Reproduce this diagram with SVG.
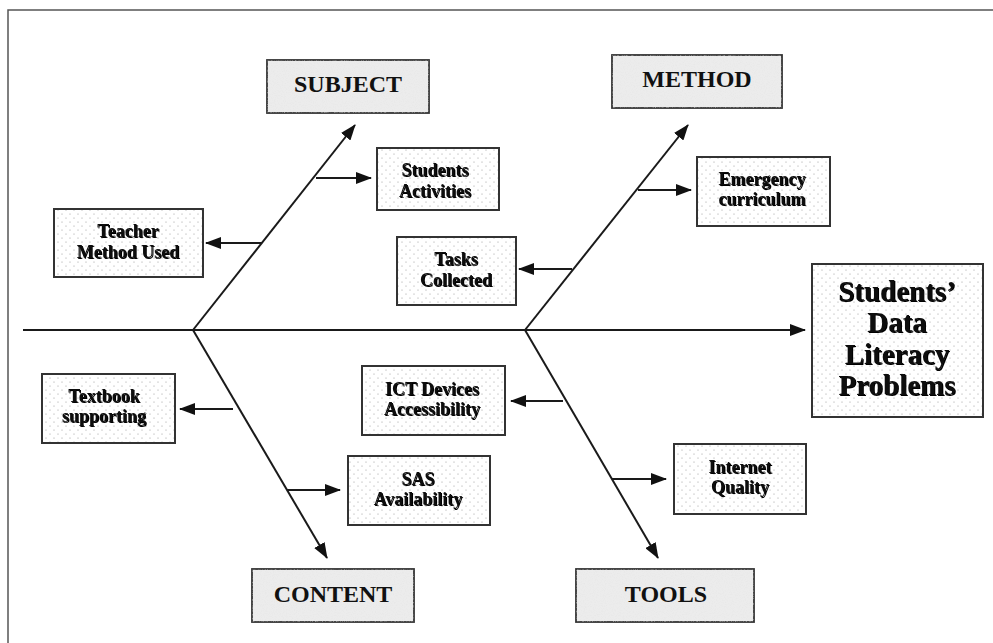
<svg xmlns="http://www.w3.org/2000/svg" width="993" height="643" viewBox="0 0 993 643">
<defs>
<pattern id="dots" width="8" height="8" patternUnits="userSpaceOnUse">
<rect width="8" height="8" fill="#ffffff"/>
<circle cx="2" cy="2" r="0.6" fill="#9a9a9a"/>
<circle cx="6" cy="6" r="0.6" fill="#9a9a9a"/>
</pattern>
<filter id="speckle" x="0" y="0" width="100%" height="100%">
<feTurbulence type="fractalNoise" baseFrequency="0.9" numOctaves="2" seed="3" result="n"/>
<feColorMatrix in="n" type="matrix" values="0 0 0 0 0.78  0 0 0 0 0.78  0 0 0 0 0.78  0 0 0 -2.2 1.25" result="g"/>
<feComposite in="g" in2="SourceGraphic" operator="in"/>
</filter>
<filter id="shadow" x="-10%" y="-20%" width="120%" height="140%">
<feGaussianBlur in="SourceAlpha" stdDeviation="0.6" result="b"/>
<feOffset in="b" dx="0.8" dy="0.8" result="o"/>
<feMerge><feMergeNode in="o"/><feMergeNode in="SourceGraphic"/></feMerge>
</filter>
<marker id="ah" markerWidth="16" markerHeight="12" refX="15" refY="6" orient="auto" markerUnits="userSpaceOnUse">
<path d="M0,0 L16,6 L0,12 Z" fill="#111"/>
</marker>
</defs>
<style>
.frame{fill:none;stroke:#555;stroke-width:1.5}
.cat{fill:#ececec;stroke:#333;stroke-width:1.8}
.box{fill:url(#dots);stroke:#333;stroke-width:2}
text{font-family:'Liberation Serif','Times New Roman','DejaVu Serif',serif;font-weight:bold;fill:#111;text-anchor:middle}
.ct{font-size:24px}
.bt{font-size:18px;filter:url(#shadow)}
.big{font-size:29px;filter:url(#shadow)}
.ln{stroke:#1a1a1a;stroke-width:2;fill:none}
</style>
<rect width="993" height="643" fill="#ffffff"/>
<rect class="frame" x="8" y="10" width="1000" height="700"/>

<g id="connectors">
<line class="ln" x1="23" y1="330" x2="805" y2="330" marker-end="url(#ah)"/>
<line class="ln" x1="193" y1="330" x2="355" y2="125" marker-end="url(#ah)"/>
<line class="ln" x1="525" y1="330" x2="688" y2="125" marker-end="url(#ah)"/>
<line class="ln" x1="193" y1="330" x2="327" y2="558" marker-end="url(#ah)"/>
<line class="ln" x1="525" y1="330" x2="658" y2="558" marker-end="url(#ah)"/>
<line class="ln" x1="316" y1="178" x2="371" y2="178" marker-end="url(#ah)"/>
<line class="ln" x1="262" y1="243" x2="206" y2="243" marker-end="url(#ah)"/>
<line class="ln" x1="638" y1="190" x2="691" y2="190" marker-end="url(#ah)"/>
<line class="ln" x1="572" y1="269" x2="519" y2="269" marker-end="url(#ah)"/>
<line class="ln" x1="233" y1="409" x2="180" y2="409" marker-end="url(#ah)"/>
<line class="ln" x1="287" y1="490" x2="340" y2="490" marker-end="url(#ah)"/>
<line class="ln" x1="563" y1="401" x2="511" y2="401" marker-end="url(#ah)"/>
<line class="ln" x1="612" y1="479" x2="666" y2="479" marker-end="url(#ah)"/>
</g>

<g id="subject">
<rect class="cat" x="267" y="60" width="162" height="53"/>
<rect x="267" y="60" width="162" height="53" fill="#fff" filter="url(#speckle)" opacity="0.6"/>
<text class="ct" x="348" y="92">SUBJECT</text>
</g>
<g id="method">
<rect class="cat" x="612" y="55" width="170" height="53"/>
<rect x="612" y="55" width="170" height="53" fill="#fff" filter="url(#speckle)" opacity="0.6"/>
<text class="ct" x="697" y="87">METHOD</text>
</g>
<g id="content">
<rect class="cat" x="252" y="569" width="162" height="53"/>
<rect x="252" y="569" width="162" height="53" fill="#fff" filter="url(#speckle)" opacity="0.6"/>
<text class="ct" x="333" y="602">CONTENT</text>
</g>
<g id="tools">
<rect class="cat" x="576" y="569" width="178" height="53"/>
<rect x="576" y="569" width="178" height="53" fill="#fff" filter="url(#speckle)" opacity="0.6"/>
<text class="ct" x="666" y="602">TOOLS</text>
</g>

<g id="students-activities">
<rect class="box" x="377" y="148" width="122" height="62"/>
<text class="bt" x="435" y="176">Students</text>
<text class="bt" x="435" y="197">Activities</text>
</g>
<g id="teacher-method">
<rect class="box" x="54" y="209" width="149" height="68"/>
<text class="bt" x="128" y="237">Teacher</text>
<text class="bt" x="128" y="258">Method Used</text>
</g>
<g id="tasks-collected">
<rect class="box" x="397" y="237" width="119" height="68"/>
<text class="bt" x="456" y="265">Tasks</text>
<text class="bt" x="456" y="286">Collected</text>
</g>
<g id="emergency-curriculum">
<rect class="box" x="697" y="157" width="133" height="69"/>
<text class="bt" x="762" y="185">Emergency</text>
<text class="bt" x="762" y="205">curriculum</text>
</g>
<g id="problem">
<rect class="box" x="812" y="264" width="171" height="153"/>
<text class="big" x="897" y="301">Students’</text>
<text class="big" x="897" y="332">Data</text>
<text class="big" x="897" y="364">Literacy</text>
<text class="big" x="897" y="395">Problems</text>
</g>
<g id="textbook-supporting">
<rect class="box" x="42" y="374" width="133" height="69"/>
<text class="bt" x="104" y="402">Textbook</text>
<text class="bt" x="104" y="422">supporting</text>
</g>
<g id="ict-devices">
<rect class="box" x="362" y="366" width="143" height="69"/>
<text class="bt" x="432" y="395">ICT Devices</text>
<text class="bt" x="432" y="415">Accessibility</text>
</g>
<g id="sas-availability">
<rect class="box" x="348" y="456" width="142" height="69"/>
<text class="bt" x="418" y="485">SAS</text>
<text class="bt" x="418" y="505">Availability</text>
</g>
<g id="internet-quality">
<rect class="box" x="674" y="444" width="132" height="70"/>
<text class="bt" x="740" y="473">Internet</text>
<text class="bt" x="740" y="493">Quality</text>
</g>
</svg>
